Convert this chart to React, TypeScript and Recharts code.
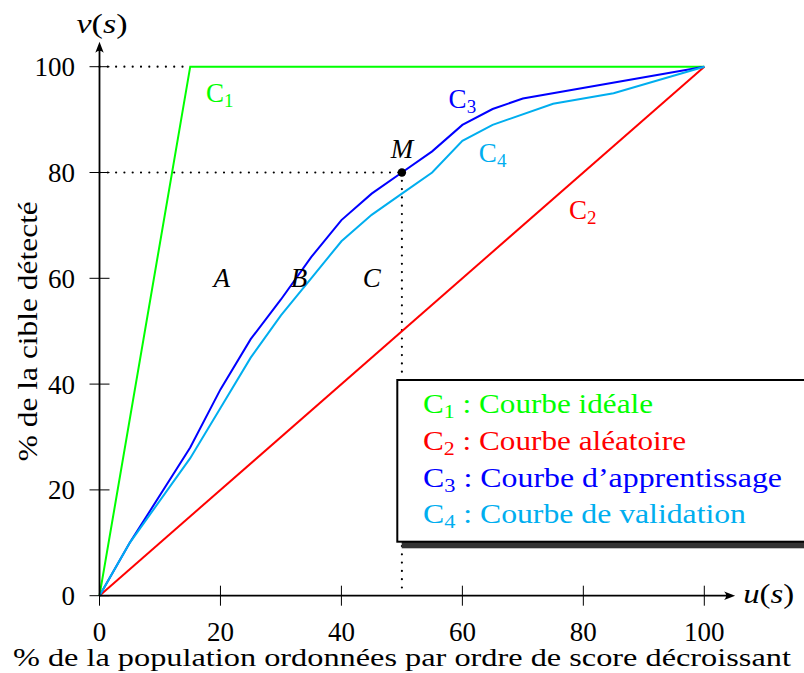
import React from 'react'
import { LineChart, Line, XAxis, YAxis, ReferenceLine, ReferenceDot, Legend, Label } from 'recharts'

const FONT = '"Liberation Serif", "DejaVu Serif", serif'

// values
const idealU = [0, 15, 100]
const idealV = [0, 100, 100]
const randomU = [0, 100]
const randomV = [0, 100]
const learnU = [0, 5, 15, 20, 25, 30, 35, 40, 45, 50, 55, 60, 65, 70, 100]
const learnV = [0, 10, 28, 39, 48.5, 56, 64, 71, 76, 80, 84, 89, 92, 94, 100]
const validU = [0, 5, 15, 20, 25, 30, 35, 40, 45, 50, 55, 60, 65, 75, 85, 100]
const validV = [0, 10, 26, 35.5, 45, 53, 60, 67, 72, 76, 80, 86, 89, 93, 95, 100]
const axisTicks = [0, 20, 40, 60, 80, 100]

const curveIds = ['1', '2', '3', '4']
const curveNames = ['Courbe idéale', 'Courbe aléatoire', 'Courbe d’apprentissage', 'Courbe de validation']
const curveColors = ['#00ff00', '#ff0000', '#0000ff', '#00aeef']
const legendWidths = [230, 263, 359, 323]

const pointM = { u: 50, v: 80 }

const annotations = [
  { u: 19.9, v: 93.4, text: 'C', sub: '1', color: '#00ff00' },
  { u: 79.9, v: 71.2, text: 'C', sub: '2', color: '#ff0000' },
  { u: 60, v: 92.2, text: 'C', sub: '3', color: '#0000ff' },
  { u: 65, v: 82, text: 'C', sub: '4', color: '#00aeef' },
  { u: 20.2, v: 58.3, text: 'A', sub: '', color: '#000' },
  { u: 33, v: 58.3, text: 'B', sub: '', color: '#000' },
  { u: 45, v: 58.3, text: 'C', sub: '', color: '#000' },
]

const toPoints = (u: number[], v: number[]) => u.map((x, i) => ({ u: x, v: v[i] }))
const series = [toPoints(idealU, idealV), toPoints(randomU, randomV), toPoints(learnU, learnV), toPoints(validU, validV)]

function XTick({ x, y, payload }: any) {
  return (
    <g>
      <line x1={x} x2={x} y1={y - 10} y2={y + 10} stroke="#000" strokeWidth={1} />
      <text x={x} y={y + 44.8} textAnchor="middle" fontSize={27} fontFamily={FONT} fill="#000">{payload.value}</text>
    </g>
  )
}

function YTick({ x, y, payload }: any) {
  return (
    <g>
      <line x1={x - 10} x2={x + 10} y1={y} y2={y} stroke="#000" strokeWidth={1} />
      <text x={x - 24.5} y={y + 9.5} textAnchor="end" fontSize={27} fontFamily={FONT} fill="#000">{payload.value}</text>
    </g>
  )
}

function VarLabel({ x, y, name, anchor }: { x: number; y: number; name: string; anchor: 'start' | 'middle' }) {
  return (
    <text x={x} y={y} textAnchor={anchor} fontSize={27} fontFamily={FONT} fill="#000"
      textLength={51} lengthAdjust="spacingAndGlyphs">
      <tspan fontStyle="italic">{name}</tspan>(<tspan fontStyle="italic">s</tspan>)
    </text>
  )
}

function AxisArrow(props: any) {
  const { x1, y1, x2, y2, dir } = props
  const len = 11, half = 4.2
  const head = dir === 'x'
    ? `M${x2},${y2} L${x2 - len},${y2 - half} Q${x2 - len + 4},${y2} ${x2 - len},${y2 + half} Z`
    : `M${x2},${y2} L${x2 - half},${y2 + len} Q${x2},${y2 + len - 4} ${x2 + half},${y2 + len} Z`
  return (
    <g>
      <line x1={x1} y1={y1} x2={dir === 'x' ? x2 - 4 : x2} y2={dir === 'x' ? y2 : y2 + 4} stroke="#000" strokeWidth={1.8} />
      <path d={head} fill="#000" />
      {dir === 'x'
        ? <VarLabel x={x2 + 8} y={y2 + 7.3} name="u" anchor="start" />
        : <VarLabel x={x2 + 2.5} y={y2 - 8.7} name="v" anchor="middle" />}
    </g>
  )
}

function LegendBox({ payload }: any) {
  return (
    <svg width={408} height={176} style={{ display: 'block' }}>
      <rect x={5.7} y={8} width={430} height={162.3} fill="#333" />
      <rect x={1.3} y={2} width={430} height={161.7} fill="#fff" stroke="#000" strokeWidth={2} />
      {(payload || []).map((e: any) => {
        const i = curveNames.indexOf(e.value)
        return (
          <text key={e.value} x={27} y={35.3 + i * 36.7} fill={e.color} fontFamily={FONT} fontSize={27}
            textLength={legendWidths[i]} lengthAdjust="spacingAndGlyphs">
            C<tspan fontSize={19} dy={5}>{curveIds[i]}</tspan><tspan dy={-5}> : {e.value}</tspan>
          </text>
        )
      })}
    </svg>
  )
}

const annotationShape = (a: typeof annotations[number]) => (p: any) => (
  <text x={p.cx} y={p.cy} textAnchor="middle" fontSize={27} fontFamily={FONT} fill={a.color}
    fontStyle={a.sub ? 'normal' : 'italic'}>
    {a.text}
    {a.sub && <tspan fontSize={19} dy={5}>{a.sub}</tspan>}
  </text>
)

export default function App() {
  const dotted = { stroke: '#000', strokeWidth: 2.2, strokeDasharray: '0 8.3', strokeLinecap: 'round' as const, ifOverflow: 'visible' as const }
  return (
    <div style={{ position: 'absolute', left: 0, top: 0, width: 804, height: 673, overflow: 'hidden', background: '#fff' }}>
      <LineChart width={804} height={673} margin={{ top: 66.7, right: 99.7, bottom: 76.3, left: 98.5 }}>
        <XAxis dataKey="u" type="number" domain={[0, 100]} ticks={axisTicks} interval={0} height={1}
          axisLine={false} tickLine={false} tickSize={0} tickMargin={0} tick={<XTick />}>
          <Label content={({ viewBox }: any) => (
            <text x={viewBox.x + viewBox.width / 2} y={viewBox.y + 69.8} textAnchor="middle" fontSize={26}
              fontFamily={FONT} fill="#000" textLength={778} lengthAdjust="spacingAndGlyphs">
              % de la population ordonnées par ordre de score décroissant
            </text>
          )} />
        </XAxis>
        <YAxis type="number" domain={[0, 100]} ticks={axisTicks} interval={0} width={1}
          axisLine={false} tickLine={false} tickSize={0} tickMargin={0} tick={<YTick />}>
          <Label content={({ viewBox }: any) => {
            const cx = viewBox.x + viewBox.width - 62.2
            const cy = viewBox.y + viewBox.height / 2
            return (
              <text x={cx} y={cy} transform={`rotate(-90, ${cx}, ${cy})`} textAnchor="middle" fontSize={27}
                fontFamily={FONT} fill="#000" textLength={260} lengthAdjust="spacingAndGlyphs">
                % de la cible détecté
              </text>
            )
          }} />
        </YAxis>

        <ReferenceLine segment={[{ x: 0, y: 100 }, { x: 15, y: 100 }]} {...dotted} />
        <ReferenceLine segment={[{ x: 0, y: pointM.v }, { x: pointM.u, y: pointM.v }]} {...dotted} />
        <ReferenceLine segment={[{ x: pointM.u, y: pointM.v }, { x: pointM.u, y: 0 }]} {...dotted} />

        {series.map((data, i) => (
          <Line key={i} data={data} dataKey="v" name={curveNames[i]} type="linear" stroke={curveColors[i]}
            strokeWidth={2} dot={false} activeDot={false} isAnimationActive={false} />
        ))}

        <ReferenceLine segment={[{ x: 0, y: 0 }, { x: 105.1, y: 0 }]} ifOverflow="visible"
          shape={(p: any) => <AxisArrow {...p} dir="x" />} />
        <ReferenceLine segment={[{ x: 0, y: 0 }, { x: 0, y: 104.7 }]} ifOverflow="visible"
          shape={(p: any) => <AxisArrow {...p} dir="y" />} />

        <ReferenceDot x={pointM.u} y={pointM.v} r={4.2} fill="#000" stroke="none">
          <Label content={({ viewBox }: any) => (
            <text x={viewBox.x + viewBox.width / 2} y={viewBox.y - 10} textAnchor="middle" fontSize={27}
              fontFamily={FONT} fontStyle="italic" fill="#000">M</text>
          )} />
        </ReferenceDot>

        {annotations.map((a, i) => (
          <ReferenceDot key={i} x={a.u} y={a.v} r={0} shape={annotationShape(a)} />
        ))}

        <Legend layout="vertical" align="center" verticalAlign="middle" content={<LegendBox />}
          wrapperStyle={{ left: 396, top: 378, width: 408, height: 176 }} />
      </LineChart>
    </div>
  )
}
